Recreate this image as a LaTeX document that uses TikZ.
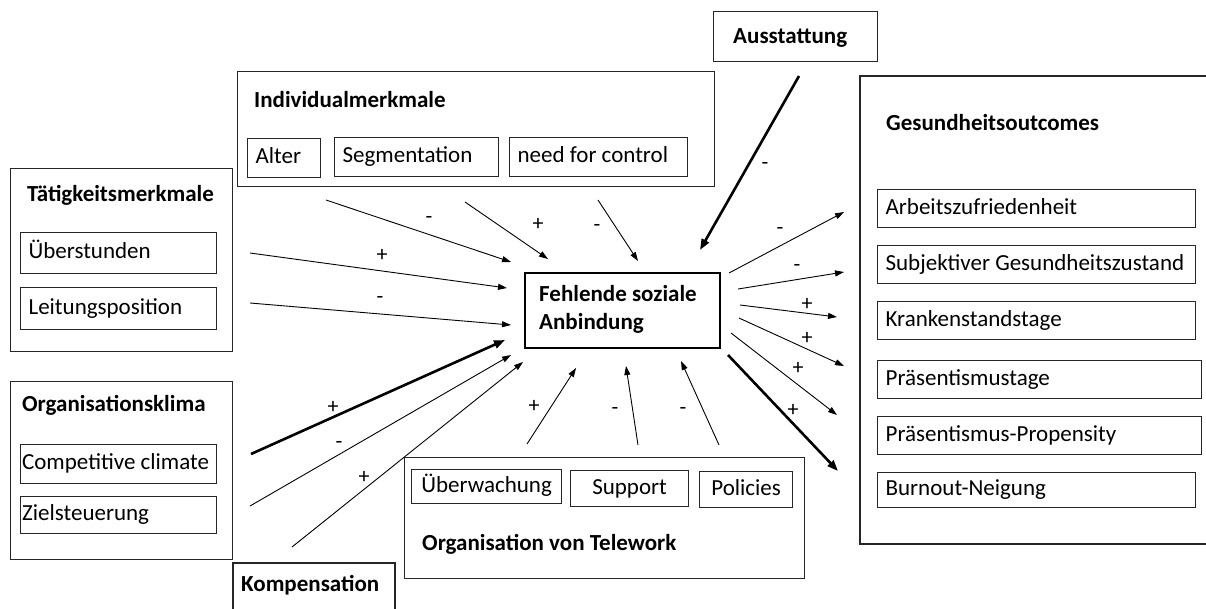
\documentclass[tikz,border=0pt]{standalone}
\usepackage{fontspec}
\setmainfont{Carlito}
\usetikzlibrary{arrows.meta}
\begin{document}
\begin{tikzpicture}[x=1pt,y=-1pt,
  every node/.style={font=\fontsize{23}{28}\selectfont},
  outerbox/.style={draw=black!85, line width=1.2pt, inner sep=0pt, anchor=north west},
  outerline/.style={draw=black!85, line width=1.2pt},
  itembox/.style={draw=black!85, line width=1.2pt, anchor=north west, inner xsep=8pt, inner ysep=0pt, align=flush left, text height=16pt, text depth=5pt},
  cbox/.style={draw=black!85, line width=1.2pt, anchor=north west, inner sep=0pt, align=center, text height=16pt, text depth=5pt},
  title/.style={anchor=west, inner sep=0pt, font=\fontsize{23}{28}\selectfont\bfseries},
  sign/.style={inner sep=0pt, font=\fontsize{22}{26}\selectfont},
  thin/.style={line width=0.9pt, -{Triangle[length=9pt,width=6pt]}},
  thick/.style={line width=2.6pt, -{Triangle[length=11pt,width=8pt]}}
]
\useasboundingbox (0,0) rectangle (1206,608);
\clip (0,0) rectangle (1206,608);

% ---------- outer boxes ----------
\node[outerbox, minimum width=477pt, minimum height=115pt] (indiv) at (237,71) {};
\node[title] (indivT) at (254,100) {Individualmerkmale};
\node[itembox, text width=57pt, minimum height=39pt] (alter) at (247,138) {Alter};
\node[itembox, text width=148pt, minimum height=39pt] (segm) at (334,137) {Segmentation};
\node[itembox, text width=162pt, minimum height=39pt] (need) at (509,137) {need for control};

\node[outerbox, minimum width=222pt, minimum height=183pt] (taet) at (10,168) {};
\node[title] (taetT) at (27,195) {Tätigkeitsmerkmale};
\node[itembox, text width=180pt, minimum height=41pt] (ueber) at (20,232) {Überstunden};
\node[itembox, text width=180pt, minimum height=42pt] (leit) at (20,287) {Leitungsposition};

\node[outerbox, minimum width=222pt, minimum height=178pt] (orgk) at (10,381) {};
\node[title] (orgkT) at (22,405) {Organisationsklima};
\node[itembox, inner xsep=1.5pt, text width=193pt, minimum height=39pt] (comp) at (20,444) {Competitive climate};
\node[itembox, inner xsep=1.5pt, text width=193pt, minimum height=37pt] (ziel) at (20,496) {Zielsteuerung};

\node[outerbox, minimum width=164pt, minimum height=50pt] (ausst) at (713,11) {};
\node[title] (ausstT) at (733,38) {Ausstattung};

\draw[outerline] (1230,76) -- (860,76) -- (860,544) -- (1230,544);
\coordinate (gesund) at (860,76);
\node[title] (gesT) at (886,123) {Gesundheitsoutcomes};
\node[itembox, text width=302pt, minimum height=38pt] (arb) at (877,189) {Arbeitszufriedenheit};
\node[itembox, text width=302pt, minimum height=38pt] (subj) at (877,245) {Subjektiver Gesundheitszustand};
\node[itembox, text width=302pt, minimum height=38pt] (krank) at (877,301) {Krankenstandstage};
\node[itembox, text width=308pt, minimum height=38pt] (praes) at (877,360) {Präsentismustage};
\node[itembox, text width=308pt, minimum height=38pt] (prop) at (877,416) {Präsentismus-Propensity};
\node[itembox, text width=302pt, minimum height=35pt] (burn) at (877,472) {Burnout-Neigung};

\draw[outerline] (233,630) -- (233,563) -- (395,563) -- (395,630);
\coordinate (komp) at (233,563);
\node[title] (kompT) at (241,585) {Kompensation};

\node[outerbox, minimum width=400pt, minimum height=121pt] (tele) at (404,457) {};
\node[title] (teleT) at (422,544) {Organisation von Telework};
\node[cbox, minimum width=150pt, minimum height=34pt] (ueberw) at (411,469) {Überwachung};
\node[cbox, minimum width=118pt, minimum height=36pt] (supp) at (570,470) {Support};
\node[cbox, minimum width=93pt, minimum height=36pt] (pol) at (699,471) {Policies};

\node[draw=black, line width=2pt, anchor=north west, minimum width=195pt, minimum height=75pt, inner sep=0pt] (fehl) at (524,272) {};
\node[anchor=north west, inner sep=0pt, align=flush left, font=\fontsize{23}{28}\selectfont\bfseries] (fehlT) at (539,285) {Fehlende soziale\\Anbindung};

% ---------- connector end points ----------
\coordinate (a1) at (326,200);  \coordinate (b1) at (511,262);
\coordinate (a2) at (465,202);  \coordinate (b2) at (548,259);
\coordinate (a3) at (598,200);  \coordinate (b3) at (638,261);
\coordinate (a4) at (799,76);   \coordinate (b4) at (700,250);
\coordinate (a5) at (250,253);  \coordinate (b5) at (507,288);
\coordinate (a6) at (250,303);  \coordinate (b6) at (511,325);
\coordinate (a7) at (251,454);  \coordinate (b7) at (505,340);
\coordinate (a8) at (250,506);  \coordinate (b8) at (511,355);
\coordinate (a9) at (292,547);  \coordinate (b9) at (523,362);
\coordinate (a10) at (527,444); \coordinate (b10) at (576,368);
\coordinate (a11) at (638,445); \coordinate (b11) at (626,366);
\coordinate (a12) at (719,445); \coordinate (b12) at (681,361);
\coordinate (a13) at (729,273); \coordinate (b13) at (844,212);
\coordinate (a14) at (738,289); \coordinate (b14) at (844,272);
\coordinate (a15) at (740,305); \coordinate (b15) at (837,317);
\coordinate (a16) at (739,318); \coordinate (b16) at (844,366);
\coordinate (a17) at (731,333); \coordinate (b17) at (837,415);
\coordinate (a18) at (728,355); \coordinate (b18) at (838,471);

% ---------- connectors ----------
\draw[thin] (a1) -- (b1);
\draw[thin] (a2) -- (b2);
\draw[thin] (a3) -- (b3);
\draw[thick] (a4) -- (b4);
\draw[thin] (a5) -- (b5);
\draw[thin] (a6) -- (b6);
\draw[thick] (a7) -- (b7);
\draw[thin] (a8) -- (b8);
\draw[thin] (a9) -- (b9);
\draw[thin] (a10) -- (b10);
\draw[thin] (a11) -- (b11);
\draw[thin] (a12) -- (b12);
\draw[thin] (a13) -- (b13);
\draw[thin] (a14) -- (b14);
\draw[thin] (a15) -- (b15);
\draw[thin] (a16) -- (b16);
\draw[thin] (a17) -- (b17);
\draw[thick] (a18) -- (b18);

% ---------- signs ----------
\node[sign] (s1) at (429,220) {-};
\node[sign] (s2) at (538,224) {+};
\node[sign] (s3) at (597,228) {-};
\node[sign] (s4) at (765,166) {-};
\node[sign] (s5) at (382,255) {+};
\node[sign] (s6) at (380,300) {-};
\node[sign] (s7) at (333,407) {+};
\node[sign] (s8) at (339,445) {-};
\node[sign] (s9) at (364,477) {+};
\node[sign] (s10) at (534,406) {+};
\node[sign] (s11) at (615,411) {-};
\node[sign] (s12) at (683,411) {-};
\node[sign] (s13) at (780,231) {-};
\node[sign] (s14) at (797,268) {-};
\node[sign] (s15) at (807,304) {+};
\node[sign] (s16) at (807,338) {+};
\node[sign] (s17) at (798,368) {+};
\node[sign] (s18) at (793,410) {+};
\end{tikzpicture}
\end{document}
